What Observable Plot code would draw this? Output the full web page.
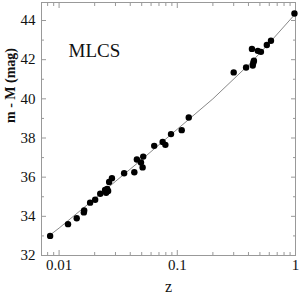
<!DOCTYPE html>
<html>
<head>
<meta charset="utf-8">
<script src="https://cdn.jsdelivr.net/npm/d3@7"></script>
<script src="https://cdn.jsdelivr.net/npm/@observablehq/plot@0.6"></script>
<style>
  html, body { margin: 0; padding: 0; background: white; }
  #chart svg, #chart svg text { font-family: "Liberation Serif", "Times New Roman", serif !important; }
</style>
</head>
<body>
<div id="chart"></div>
<script>
// Supernova redshifts and distance moduli
const snZ = [0.0084, 0.0119, 0.0141, 0.0162, 0.0163, 0.0183, 0.0202, 0.0223, 0.0245, 0.0250, 0.0255, 0.0260, 0.0265, 0.0280,
  0.0355, 0.0433, 0.0455, 0.0493, 0.0515, 0.0509, 0.0638, 0.0752, 0.0793, 0.0885, 0.109, 0.125,
  0.30, 0.382, 0.435, 0.44, 0.445, 0.428, 0.48, 0.51, 0.572, 0.62, 0.98];
const snMu = [33.0, 33.6, 33.9, 34.2, 34.3, 34.7, 34.85, 35.15, 35.35, 35.2, 35.4, 35.3, 35.75, 35.95,
  36.2, 36.25, 36.9, 36.75, 37.05, 36.5, 37.6, 37.8, 37.65, 38.2, 38.4, 39.05,
  41.35, 41.6, 41.7, 41.85, 41.95, 42.55, 42.45, 42.4, 42.75, 42.97, 44.36];

// Fitted model curve
const fitZ = [0.0082, 0.01, 0.02, 0.05, 0.1, 0.2, 0.42, 0.6, 1.0];
const fitMu = [33.0, 33.4, 34.9, 36.9, 38.45, 40.0, 41.85, 42.85, 44.35];

// Ticks
const xMajor = [0.01, 0.1, 1];
const xMinor = [0.008, 0.009, 0.02, 0.03, 0.04, 0.05, 0.06, 0.07, 0.08, 0.09, 0.2, 0.3, 0.4, 0.5, 0.6, 0.7, 0.8, 0.9];
const yMajor = [32, 34, 36, 38, 40, 42, 44];
const yMinor = [33, 35, 37, 39, 41, 43];

const points = snZ.map((z, i) => ({z, mu: snMu[i]}));
const fit = fitZ.map((z, i) => ({z, mu: fitMu[i]}));

const gray = "#999";
const serif = "Liberation Serif, Times New Roman, serif";

const chart = Plot.plot({
  width: 300,
  height: 300,
  marginLeft: 41,
  marginRight: 5,
  marginTop: 2,
  marginBottom: 45,
  style: {fontFamily: serif, fontSize: "14px", background: "white", color: "#111"},
  x: {type: "log", domain: [0.0071, 1.0]},
  y: {domain: [32, 44.92]},
  marks: [
    Plot.frame({stroke: gray}),
    // major and minor ticks inside on all four sides
    Plot.axisX(xMajor, {anchor: "bottom", tickSize: -5, text: null, label: null, stroke: gray}),
    Plot.axisX(xMajor, {anchor: "top", tickSize: -5, text: null, label: null, stroke: gray}),
    Plot.axisX(xMinor, {anchor: "bottom", tickSize: -3, text: null, label: null, stroke: gray}),
    Plot.axisX(xMinor, {anchor: "top", tickSize: -3, text: null, label: null, stroke: gray}),
    Plot.axisY(yMajor, {anchor: "left", tickSize: -5, text: null, label: null, stroke: gray}),
    Plot.axisY(yMajor, {anchor: "right", tickSize: -5, text: null, label: null, stroke: gray}),
    Plot.axisY(yMinor, {anchor: "left", tickSize: -3, text: null, label: null, stroke: gray}),
    Plot.axisY(yMinor, {anchor: "right", tickSize: -3, text: null, label: null, stroke: gray}),
    // tick labels
    Plot.axisX(xMajor, {anchor: "bottom", tickSize: 0, tickPadding: 4, label: null, tickFormat: d => String(d), fill: "#111", fontSize: 15}),
    Plot.axisY(yMajor, {anchor: "left", tickSize: 0, tickPadding: 6, label: null, fill: "#111", fontSize: 15}),
    // model line and data
    Plot.line(fit, {x: "z", y: "mu", stroke: "#888", strokeWidth: 1}),
    Plot.dot(points, {x: "z", y: "mu", r: 3.2, fill: "black", stroke: "none"}),
    // labels
    Plot.text(["MLCS"], {frameAnchor: "top-left", dx: 27, dy: 41, text: d => d, textAnchor: "start", fontSize: 19, fill: "#111", style: "letter-spacing:1px"}),
    Plot.text(["z"], {frameAnchor: "bottom", dy: 36, text: d => d, fontSize: 16, fill: "#111"}),
    Plot.text(["m - M (mag)"], {frameAnchor: "left", dx: -31, dy: -6, rotate: -90, text: d => d, fontSize: 14, fontWeight: "bold", fill: "#111"})
  ]
});
document.getElementById("chart").appendChild(chart);
</script>
</body>
</html>
